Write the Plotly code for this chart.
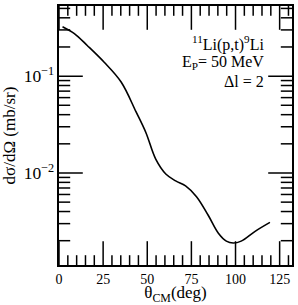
import plotly.graph_objects as go

# curve data
theta = [2, 8.7, 16, 25.6, 35.2, 43.6, 49.2, 54.8, 60.5, 66.1, 71.7, 77.9, 84.6, 90.3, 94.8, 98.7, 103.2, 111.1, 119.5]
xsec = [0.324, 0.275, 0.207, 0.139, 0.0869, 0.0430, 0.0262, 0.0139, 0.00977, 0.00828, 0.00736, 0.00569, 0.00364, 0.00239, 0.00198, 0.00189, 0.00198, 0.00250, 0.00309]

# axes
x_range = [0, 132]
y_log_range = [-2.95, -0.276]
x_major = [0, 25, 50, 75, 100, 125]
x_minor_step = 5
y_major_exp = [-1, -2]
y_minor_mult = [2, 3, 4, 5, 6, 7, 8, 9]

font = "Liberation Serif"

y_lo, y_hi = 10 ** y_log_range[0], 10 ** y_log_range[1]
x_minor = [v for v in range(x_range[0], x_range[1] + 1, x_minor_step) if v not in x_major]
y_major = [10.0 ** e for e in y_major_exp]
y_minor = [m * 10.0 ** e for e in (-3, -2, -1) for m in y_minor_mult if y_lo < m * 10.0 ** e < y_hi]

fig = go.Figure()
fig.add_trace(go.Scatter(x=theta, y=xsec, mode="lines",
                         line=dict(color="black", width=1.6, shape="spline"),
                         showlegend=False, hoverinfo="skip"))


def tick_trace(xs, ys, symbol, size):
    return go.Scatter(x=xs, y=ys, mode="markers", cliponaxis=True, showlegend=False, hoverinfo="skip",
                      marker=dict(symbol=symbol, size=size, color="black",
                                  line=dict(color="black", width=1.5)))


# inward tick marks on all four sides (half of each marker is clipped by the plot area)
for yy in (y_lo, y_hi):
    fig.add_trace(tick_trace(x_major, [yy] * len(x_major), "line-ns", 34))
    fig.add_trace(tick_trace(x_minor, [yy] * len(x_minor), "line-ns", 14))
for xx in x_range:
    fig.add_trace(tick_trace([xx] * len(y_major), y_major, "line-ew", 34))
    fig.add_trace(tick_trace([xx] * len(y_minor), y_minor, "line-ew", 16))

fig.update_layout(
    width=298, height=305, showlegend=False,
    margin=dict(l=59, r=4, t=5, b=38),
    plot_bgcolor="white", paper_bgcolor="white",
    font=dict(family=font, color="black", size=14),
)
fig.update_xaxes(
    range=x_range, showgrid=False, zeroline=False,
    showline=True, linecolor="black", linewidth=2, mirror=True,
    ticks="", tickmode="array", tickvals=x_major,
    tickfont=dict(family=font, size=14),
    title=dict(text="θ<sub>CM</sub>(deg)", font=dict(family=font, size=17), standoff=2),
)
fig.update_yaxes(
    type="log", range=y_log_range, showgrid=False, zeroline=False,
    showline=True, linecolor="black", linewidth=2, mirror=True,
    ticks="", tickmode="linear", tick0=0, dtick=1, exponentformat="power",
    tickfont=dict(family=font, size=14),
    title=dict(text="dσ/dΩ (mb/sr)", font=dict(family=font, size=17), standoff=4),
)

ann_font = dict(family=font, size=16)
fig.add_annotation(xref="paper", yref="paper", x=0.888, y=0.855, xanchor="right", yanchor="middle",
                   text="<sup>11</sup>Li(p,t)<sup>9</sup>Li", showarrow=False, font=ann_font)
fig.add_annotation(xref="paper", yref="paper", x=0.888, y=0.782, xanchor="right", yanchor="middle",
                   text="E<sub>P</sub>= 50 MeV", showarrow=False, font=ann_font)
fig.add_annotation(xref="paper", yref="paper", x=0.888, y=0.71, xanchor="right", yanchor="middle",
                   text="Δl = 2", showarrow=False, font=ann_font)

fig.write_html("out.html")
